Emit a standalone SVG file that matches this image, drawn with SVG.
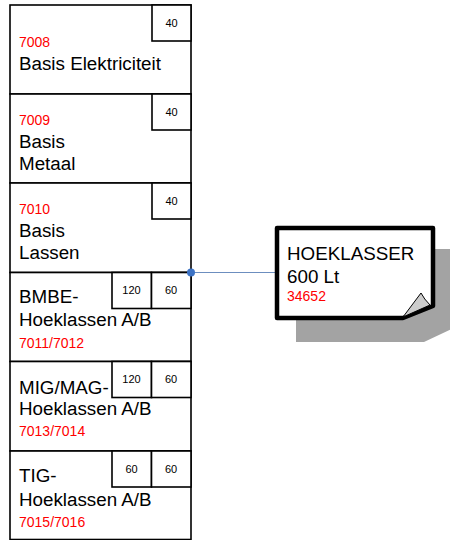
<svg xmlns="http://www.w3.org/2000/svg" width="450" height="540" viewBox="0 0 450 540">
<style>
.sec{fill:#fff;stroke:#000;stroke-width:1.6}
.bx{fill:#fff;stroke:#000;stroke-width:1.6}
.t{font-family:"Liberation Sans",Arial,sans-serif;font-size:18.8px;fill:#000}
.r{font-family:"Liberation Sans",Arial,sans-serif;font-size:14px;fill:#ff0000}
.n{font-family:"Liberation Sans",Arial,sans-serif;font-size:11px;fill:#000;text-anchor:middle}
</style>
<rect width="450" height="540" fill="#fff"/>
<g id="n7008">
<rect class="sec" x="10" y="5" width="181" height="89"/>
<rect class="bx" x="152" y="5" width="39" height="36"/>
<text class="n" x="171.5" y="27">40</text>
<text class="r" x="19" y="47">7008</text>
<text class="t" x="19" y="70">Basis Elektriciteit</text>
</g>
<g id="n7009">
<rect class="sec" x="10" y="94" width="181" height="89"/>
<rect class="bx" x="152" y="94" width="39" height="36"/>
<text class="n" x="171.5" y="116">40</text>
<text class="r" x="19" y="125">7009</text>
<text class="t" x="19" y="148">Basis</text>
<text class="t" x="19" y="170">Metaal</text>
</g>
<g id="n7010">
<rect class="sec" x="10" y="183" width="181" height="89.5"/>
<rect class="bx" x="152" y="183" width="39" height="36"/>
<text class="n" x="171.5" y="205">40</text>
<text class="r" x="19" y="214">7010</text>
<text class="t" x="19" y="237">Basis</text>
<text class="t" x="19" y="259">Lassen</text>
</g>
<g id="n7011">
<rect class="sec" x="10" y="272.5" width="181" height="89"/>
<rect class="bx" x="112" y="272.5" width="39.5" height="36"/>
<rect class="bx" x="151.5" y="272.5" width="39.5" height="36"/>
<text class="n" x="131.5" y="294">120</text>
<text class="n" x="171" y="294">60</text>
<text class="t" x="19" y="303">BMBE-</text>
<text class="t" x="19" y="326">Hoeklassen A/B</text>
<text class="r" x="19" y="348">7011/7012</text>
</g>
<g id="n7013">
<rect class="sec" x="10" y="361.5" width="181" height="89.5"/>
<rect class="bx" x="112" y="361.5" width="39.5" height="36"/>
<rect class="bx" x="151.5" y="361.5" width="39.5" height="36"/>
<text class="n" x="131.5" y="383">120</text>
<text class="n" x="171" y="383">60</text>
<text class="t" x="19" y="394">MIG/MAG-</text>
<text class="t" x="19" y="415">Hoeklassen A/B</text>
<text class="r" x="19" y="436">7013/7014</text>
</g>
<g id="n7015">
<rect class="sec" x="10" y="451" width="181" height="88.5"/>
<rect class="bx" x="112" y="451" width="39.5" height="36"/>
<rect class="bx" x="151.5" y="451" width="39.5" height="36"/>
<text class="n" x="131.5" y="473">60</text>
<text class="n" x="171" y="473">60</text>
<text class="t" x="19" y="482">TIG-</text>
<text class="t" x="19" y="506">Hoeklassen A/B</text>
<text class="r" x="19" y="527">7015/7016</text>
</g>
<g id="connectors">
<line x1="191" y1="272.5" x2="278" y2="272.5" stroke="#6c8ebf" stroke-width="1.2"/>
<circle cx="191" cy="272.5" r="4" fill="#3d73c5"/>
</g>
<g id="callout">
<path d="M296,249 H456 V327 L424,342 H296 Z" fill="#a3a3a3"/>
<path d="M277,228 H433 V306 L403,318 H277 Z" fill="#fff" stroke="#000" stroke-width="4.5" stroke-linejoin="round"/>
<path d="M403,317 L421,293 Q424,299 430,305 Z" fill="#cccccc" stroke="#000" stroke-width="1"/>
<text class="t" x="287" y="260">HOEKLASSER</text>
<text class="t" x="287" y="283">600 Lt</text>
<text class="r" x="287" y="301">34652</text>
</g>
</svg>
